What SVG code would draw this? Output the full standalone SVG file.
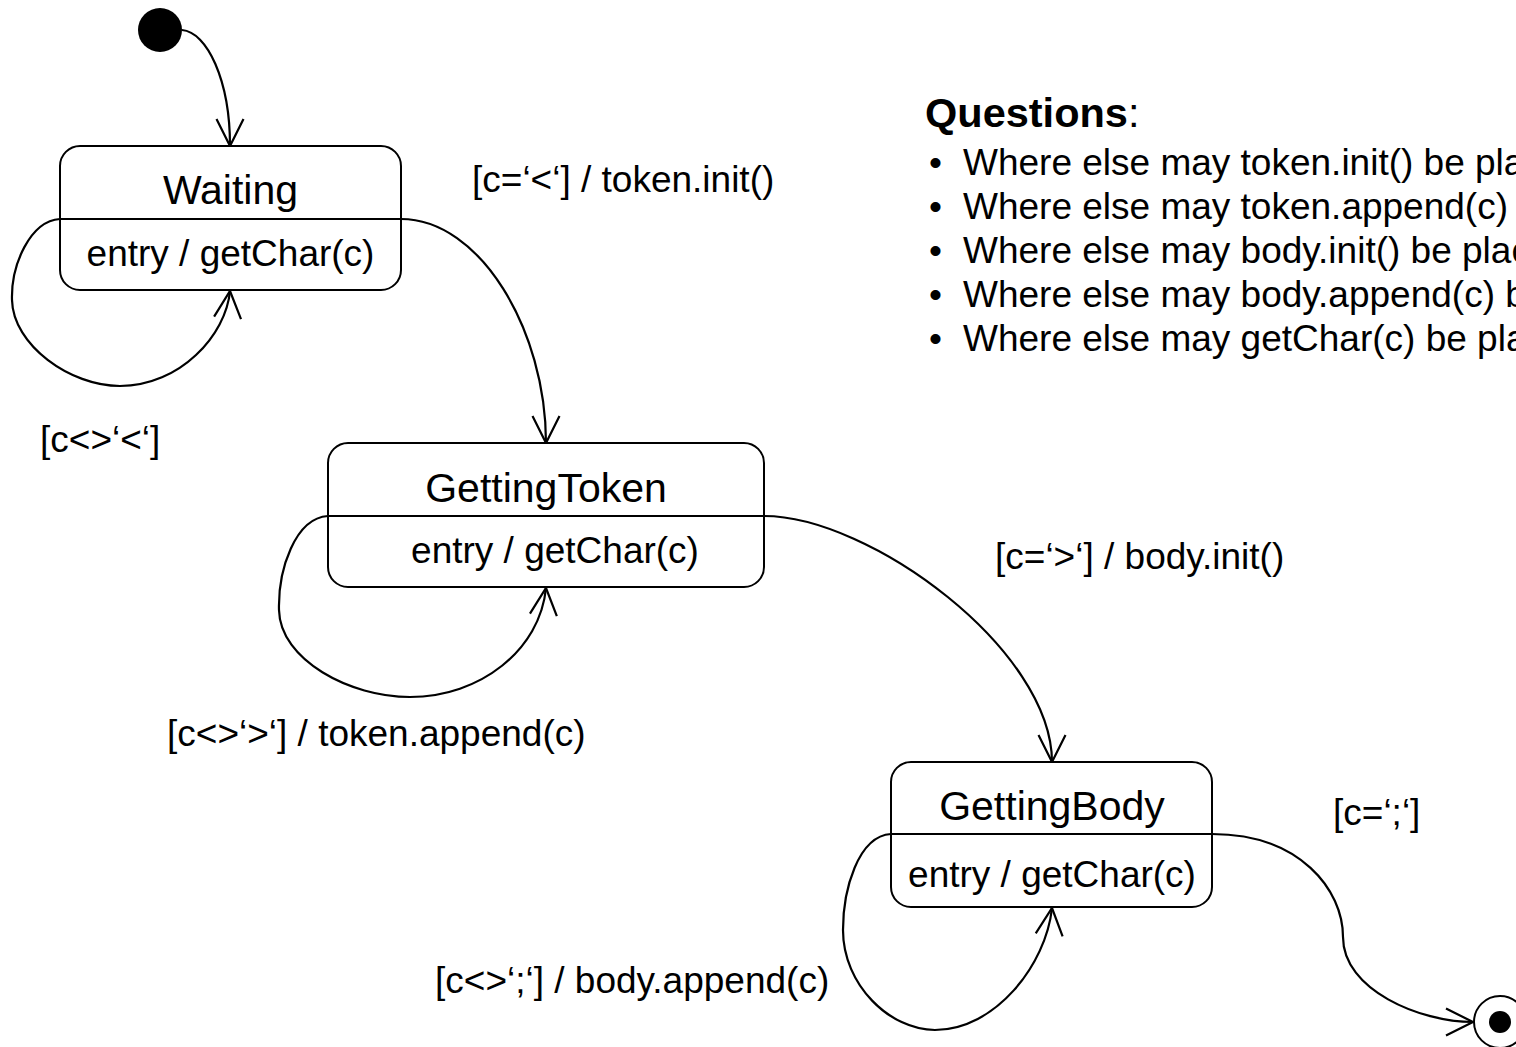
<svg xmlns="http://www.w3.org/2000/svg" width="1516" height="1047" viewBox="0 0 1516 1047">
  <style>
    text { font-family: "Liberation Sans", Arial, sans-serif; fill: #000; }
    .name { font-size: 41px; text-anchor: middle; }
    .act { font-size: 37px; text-anchor: middle; }
    .lbl { font-size: 37px; }
    .q { font-size: 37px; }
    .qt { font-size: 41.5px; }
    .box { fill: #fff; stroke: #000; stroke-width: 2; }
    .div { stroke: #000; stroke-width: 2; }
    .edge { fill: none; stroke: #000; stroke-width: 2.2; marker-end: url(#open); }
  </style>
  <defs>
    <marker id="open" markerUnits="userSpaceOnUse" viewBox="-30 -16 32 32" markerWidth="32" markerHeight="32" refX="0" refY="0" orient="auto" overflow="visible">
      <path d="M-27,-13.5 L0,0 L-27,13.5" fill="none" stroke="#000" stroke-width="2.2"/>
    </marker>
  </defs>
  <rect width="1516" height="1047" fill="#fff"/>

  <!-- transitions -->
  <g id="connectors">
    <path class="edge" d="M182,30 C207,32 230,80 230,146"/>
    <path class="edge" d="M60,219 C30,221 11,265 12,300 C13,345 70,386 120,386 C180,386 226,335 230,291"/>
    <path class="edge" d="M401,219 C480,219 546,330 546,443"/>
    <path class="edge" d="M328,516 C295,518 278,570 279,610 C280,660 350,697 410,697 C480,697 540,650 546,588"/>
    <path class="edge" d="M764,516 C870,516 1052,650 1052,762"/>
    <path class="edge" d="M891,834 C858,836 843,890 843,930 C843,985 890,1030 935,1030 C995,1030 1046,965 1052,908"/>
    <path class="edge" d="M1212,834 C1300,834 1343,890 1343,937 C1343,990 1420,1022 1473,1022"/>
  </g>

  <!-- initial pseudo-state -->
  <g id="initial">
    <circle cx="160" cy="30" r="22" fill="#000"/>
  </g>

  <!-- final state -->
  <g id="final">
    <circle cx="1500" cy="1022" r="26" fill="#fff" stroke="#000" stroke-width="2"/>
    <circle cx="1500" cy="1022" r="11" fill="#000"/>
  </g>

  <g id="waiting">
    <rect class="box" x="60" y="146" width="341" height="144" rx="20"/>
    <line class="div" x1="60" y1="219" x2="401" y2="219"/>
    <text class="name" x="230.5" y="204">Waiting</text>
    <text class="act" x="230.5" y="266">entry / getChar(c)</text>
  </g>

  <g id="gettingToken">
    <rect class="box" x="328" y="443" width="436" height="144" rx="20"/>
    <line class="div" x1="328" y1="516" x2="764" y2="516"/>
    <text class="name" x="546" y="502">GettingToken</text>
    <text class="act" x="555" y="563">entry / getChar(c)</text>
  </g>

  <g id="gettingBody">
    <rect class="box" x="891" y="762" width="321" height="145" rx="20"/>
    <line class="div" x1="891" y1="834" x2="1212" y2="834"/>
    <text class="name" x="1052" y="820">GettingBody</text>
    <text class="act" x="1052" y="887">entry / getChar(c)</text>
  </g>

  <!-- transition labels -->
  <g id="labels">
    <text class="lbl" x="472" y="192">[c=‘&lt;‘] / token.init()</text>
    <text class="lbl" x="40" y="452">[c&lt;&gt;‘&lt;‘]</text>
    <text class="lbl" x="167" y="746">[c&lt;&gt;‘&gt;‘] / token.append(c)</text>
    <text class="lbl" x="995" y="569">[c=‘&gt;‘] / body.init()</text>
    <text class="lbl" x="1333" y="825">[c=‘;‘]</text>
    <text class="lbl" x="435" y="993">[c&lt;&gt;‘;‘] / body.append(c)</text>
  </g>

  <!-- questions panel -->
  <g id="questions">
    <text class="qt" x="925" y="127"><tspan font-weight="bold">Questions</tspan>:</text>
    <text class="q" x="929" y="175">•</text>
    <text class="q" x="963" y="175">Where else may token.init() be pla</text>
    <text class="q" x="929" y="219">•</text>
    <text class="q" x="963" y="219">Where else may token.append(c)</text>
    <text class="q" x="929" y="263">•</text>
    <text class="q" x="963" y="263">Where else may body.init() be plac</text>
    <text class="q" x="929" y="307">•</text>
    <text class="q" x="963" y="307">Where else may body.append(c) b</text>
    <text class="q" x="929" y="351">•</text>
    <text class="q" x="963" y="351">Where else may getChar(c) be pla</text>
  </g>
</svg>
